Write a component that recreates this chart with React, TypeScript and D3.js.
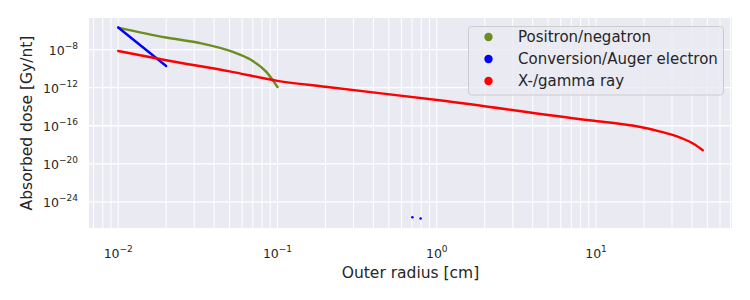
import React from "react";
import * as d3 from "d3";

const positronX = [0.01, 0.02, 0.0324, 0.0525, 0.0676, 0.0851, 0.1];
const positronY = [2.04e-6, 1.82e-7, 4.9e-8, 5.6e-9, 8.9e-10, 4.5e-11, 1.17e-12];

const conversionX = [0.01, 0.02];
const conversionY = [2.04e-6, 1.9e-10];
const conversionDotsX = [0.703, 0.792];
const conversionDotsY = [2.45e-26, 1.86e-26];

const gammaX = [0.01, 0.02, 0.05, 0.1, 0.2, 1.04, 9.1, 14.0, 18.7, 25.0, 33.4, 41.4, 46.8];
const gammaY = [7.1e-9, 7.6e-10, 5.2e-11, 5.2e-12, 1.23e-12, 4.8e-14, 3.8e-16, 1.62e-16, 7.9e-17, 2.6e-17, 6.2e-18, 1.15e-18, 2.7e-19];

const xTickExps = [-2, -1, 0, 1];
const yTickExps = [-8, -12, -16, -20, -24];

const legendLabels = ["Positron/negatron", "Conversion/Auger electron", "X-/gamma ray"];
const colors = ["#6b8e23", "#0000ff", "#ff0000"];

const FONT = "'DejaVu Sans', sans-serif";

export default function App() {
  const W = 750, H = 300;
  const left = 89, right = 732, top = 18, bottom = 228;

  const allX = [...positronX, ...conversionX, ...conversionDotsX, ...gammaX].map(Math.log10);
  const allY = [...positronY, ...conversionY, ...conversionDotsY, ...gammaY].map(Math.log10);
  const [lx0, lx1] = d3.extent(allX) as [number, number];
  const [ly0, ly1] = d3.extent(allY) as [number, number];
  const px = (lx1 - lx0) * 0.05, py = (ly1 - ly0) * 0.05;

  const x = d3.scaleLog().domain([Math.pow(10, lx0 - px), Math.pow(10, lx1 + px)]).range([left, right]);
  const y = d3.scaleLog().domain([Math.pow(10, ly0 - py), Math.pow(10, ly1 + py)]).range([bottom, top]);

  const line = d3.line<[number, number]>().x(d => x(d[0])).y(d => y(d[1])).curve(d3.curveMonotoneX);
  const zip = (a: number[], b: number[]) => a.map((v, i) => [v, b[i]] as [number, number]);

  const xGrid: number[] = [];
  const [dx0, dx1] = x.domain();
  for (let e = -3; e <= 2; e++) {
    for (let m = 1; m <= 9; m++) {
      const v = m * Math.pow(10, e);
      if (v >= dx0 && v <= dx1) xGrid.push(v);
    }
  }

  return (
    <svg width={W} height={H} style={{ position: "absolute", left: 0, top: 0 }} fontFamily={FONT}>
      <rect x={0} y={0} width={W} height={H} fill="#ffffff" />
      <rect x={left} y={top} width={right - left} height={bottom - top} fill="#eaeaf2" />
      <g>
        {xGrid.map((v, i) => (
          <line key={i} x1={x(v)} x2={x(v)} y1={top} y2={bottom} stroke="#ffffff" strokeWidth={1} />
        ))}
        {yTickExps.map(e => (
          <line key={e} x1={left} x2={right} y1={y(Math.pow(10, e))} y2={y(Math.pow(10, e))} stroke="#ffffff" strokeWidth={1.3} />
        ))}
      </g>
      <g fill="none" strokeWidth={2.4} strokeLinecap="round" strokeLinejoin="round">
        <path d={line(zip(positronX, positronY)) || ""} stroke={colors[0]} />
        <path d={line(zip(conversionX, conversionY)) || ""} stroke={colors[1]} />
        <path d={line(zip(gammaX, gammaY)) || ""} stroke={colors[2]} />
      </g>
      {conversionDotsX.map((v, i) => (
        <circle key={i} cx={x(v)} cy={y(conversionDotsY[i])} r={1.3} fill={colors[1]} />
      ))}
      {xTickExps.map(e => (
        <text key={e} x={x(Math.pow(10, e))} y={258} textAnchor="middle" fontSize={12.5} fill="#262626">
          10<tspan dy={-6} fontSize={9}>{e < 0 ? "\u2212" + Math.abs(e) : String(e)}</tspan>
        </text>
      ))}
      {yTickExps.map(e => (
        <text key={e} x={78} y={y(Math.pow(10, e)) + 5} textAnchor="end" fontSize={12.5} fill="#262626">
          10<tspan dy={-6} fontSize={9}>{"\u2212" + Math.abs(e)}</tspan>
        </text>
      ))}
      <text x={(left + right) / 2} y={278} textAnchor="middle" fontSize={15.5} fill="#262626">Outer radius [cm]</text>
      <text transform={`translate(32,${(top + bottom) / 2}) rotate(-90)`} textAnchor="middle" fontSize={15.5} fill="#262626">Absorbed dose [Gy/nt]</text>
      <g>
        <rect x={468.5} y={26.5} width={255} height={68.5} rx={3} fill="#eaeaf2" fillOpacity={0.8} stroke="#cccccc" strokeWidth={1} />
        {legendLabels.map((l, i) => (
          <g key={l}>
            <circle cx={488.5} cy={37 + i * 22} r={4.2} fill={colors[i]} />
            <text x={518} y={37 + i * 22 + 5} fontSize={15} fill="#262626">{l}</text>
          </g>
        ))}
      </g>
    </svg>
  );
}
